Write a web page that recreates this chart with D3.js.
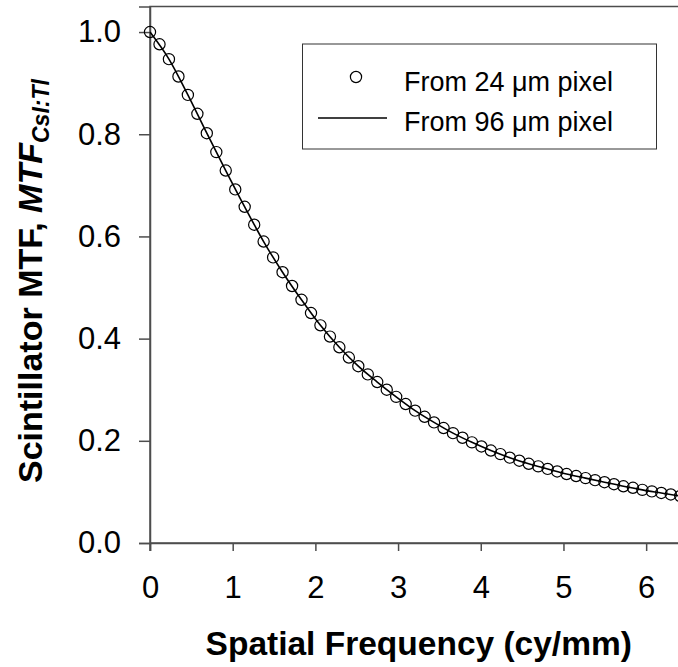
<!DOCTYPE html>
<html>
<head>
<meta charset="utf-8">
<script src="https://cdn.jsdelivr.net/npm/d3@7"></script>
<style>
  body { margin: 0; background: #fff; }
  svg { display: block; font-family: "Liberation Sans", Arial, sans-serif; }
</style>
</head>
<body>
<svg id="chart" width="678" height="667"></svg>
<script>
// spatial frequency (cy/mm) and MTF
const freq24 = [0, 0.115, 0.229, 0.344, 0.458, 0.573, 0.687, 0.802, 0.916, 1.031,
  1.145, 1.26, 1.374, 1.489, 1.603, 1.718, 1.832, 1.947, 2.061, 2.176,
  2.29, 2.405, 2.519, 2.634, 2.748, 2.863, 2.977, 3.092, 3.206, 3.321,
  3.435, 3.55, 3.664, 3.779, 3.893, 4.008, 4.122, 4.237, 4.351, 4.466,
  4.58, 4.695, 4.809, 4.924, 5.038, 5.153, 5.267, 5.382, 5.496, 5.611,
  5.725, 5.84, 5.954, 6.069, 6.183, 6.298, 6.412];
const mtf24 = [1.000, 0.976, 0.947, 0.913, 0.877, 0.840, 0.802, 0.765, 0.729, 0.692,
  0.658, 0.623, 0.590, 0.559, 0.530, 0.503, 0.476, 0.450, 0.426, 0.404,
  0.383, 0.363, 0.346, 0.330, 0.315, 0.300, 0.286, 0.272, 0.259, 0.247,
  0.236, 0.225, 0.215, 0.206, 0.197, 0.189, 0.181, 0.174, 0.167, 0.161,
  0.155, 0.150, 0.145, 0.140, 0.135, 0.131, 0.127, 0.123, 0.119, 0.115,
  0.111, 0.108, 0.104, 0.101, 0.098, 0.095, 0.092];

const freq96 = [0, 0.229, 0.458, 0.687, 0.916, 1.145, 1.374, 1.603, 1.832, 2.061,
  2.29, 2.519, 2.748, 2.977, 3.206, 3.435, 3.664, 3.893, 4.122, 4.351,
  4.58, 4.809, 5.038, 5.267, 5.496, 5.725, 5.954, 6.183, 6.412, 6.5];
const mtf96 = [1.000, 0.947, 0.877, 0.802, 0.729, 0.658, 0.590, 0.530, 0.476, 0.426,
  0.383, 0.346, 0.315, 0.286, 0.259, 0.236, 0.215, 0.197, 0.181, 0.167,
  0.155, 0.145, 0.135, 0.127, 0.119, 0.111, 0.104, 0.098, 0.092, 0.090];

const xTicks = [0, 1, 2, 3, 4, 5, 6];
const yTicks = [0, 0.2, 0.4, 0.6, 0.8, 1.0];
const legendLabels = ["From 24 \u03bcm pixel", "From 96 \u03bcm pixel"];

const svg = d3.select("#chart");
const axisColor = "#4d4d4d";

const x = d3.scaleLinear().domain([0, 6.5]).range([150, 687.5]);
const y = d3.scaleLinear().domain([0, 1.05]).range([543, 6.5]);

// frame round the plot area (right side falls outside the picture)
svg.append("rect")
    .attr("x", x(0)).attr("y", y(1.05))
    .attr("width", x(6.5) - x(0)).attr("height", y(0) - y(1.05))
    .attr("fill", "none").attr("stroke", axisColor).attr("stroke-width", 1.5);

const xAxis = svg.append("g")
    .attr("transform", `translate(0,${y(0)})`)
    .call(d3.axisBottom(x).tickValues(xTicks).tickSize(8).tickPadding(25).tickFormat(d3.format("d")));

const yAxis = svg.append("g")
    .attr("transform", `translate(${x(0)},0)`)
    .call(d3.axisLeft(y).tickValues(yTicks).tickSize(11).tickPadding(18).tickFormat(d3.format(".1f")));

[xAxis, yAxis].forEach(function(g) {
    g.select(".domain").attr("stroke", axisColor).attr("stroke-width", 1.5);
    g.selectAll(".tick line").attr("stroke", axisColor).attr("stroke-width", 1.5);
    g.selectAll(".tick text")
        .attr("fill", "#000")
        .style("font-size", "31px")
        .style("font-family", "'Liberation Sans', Arial, sans-serif");
});
// left axis pokes a little below the x axis
svg.append("line")
    .attr("x1", x(0)).attr("x2", x(0))
    .attr("y1", y(0)).attr("y2", y(0) + 8)
    .attr("stroke", axisColor).attr("stroke-width", 1.5);

// 96 um line
const line = d3.line()
    .x(function(d, i) { return x(freq96[i]); })
    .y(function(d) { return y(d); })
    .curve(d3.curveMonotoneX);

svg.append("path")
    .datum(mtf96)
    .attr("d", line)
    .attr("fill", "none")
    .attr("stroke", "#000")
    .attr("stroke-width", 1.6);

// 24 um points
svg.selectAll("circle.pt")
    .data(mtf24)
    .enter()
    .append("circle")
    .attr("class", "pt")
    .attr("cx", function(d, i) { return x(freq24[i]); })
    .attr("cy", function(d) { return y(d); })
    .attr("r", 5.6)
    .attr("fill", "none")
    .attr("stroke", "#000")
    .attr("stroke-width", 1.2);

// axis titles
svg.append("text")
    .attr("x", x(3.25))
    .attr("y", 655)
    .attr("text-anchor", "middle")
    .style("font-size", "33.5px")
    .style("font-weight", "bold")
    .text("Spatial Frequency (cy/mm)");

const yTitle = svg.append("text")
    .attr("transform", "translate(42,483) rotate(-90)")
    .attr("text-anchor", "start")
    .style("font-size", "34px")
    .style("font-weight", "bold");
yTitle.append("tspan").text("Scintillator MTF, ");
yTitle.append("tspan").style("font-style", "italic").text("MTF");
yTitle.append("tspan")
    .style("font-style", "italic")
    .style("font-size", "23px")
    .attr("dy", 7)
    .text("CsI:Tl");

// legend
const legend = svg.append("g");
legend.append("rect")
    .attr("x", 302.5).attr("y", 44)
    .attr("width", 354).attr("height", 105)
    .attr("fill", "#fff")
    .attr("stroke", "#333").attr("stroke-width", 1);

legend.append("circle")
    .attr("cx", 356).attr("cy", 77)
    .attr("r", 5.6)
    .attr("fill", "none").attr("stroke", "#000").attr("stroke-width", 1.2);

legend.append("line")
    .attr("x1", 318).attr("x2", 387)
    .attr("y1", 118).attr("y2", 118)
    .attr("stroke", "#000").attr("stroke-width", 1.6);

legend.selectAll("text")
    .data(legendLabels)
    .enter()
    .append("text")
    .attr("x", 404)
    .attr("y", function(d, i) { return 90.5 + i * 40; })
    .style("font-size", "27px")
    .text(function(d) { return d; });
</script>
</body>
</html>
